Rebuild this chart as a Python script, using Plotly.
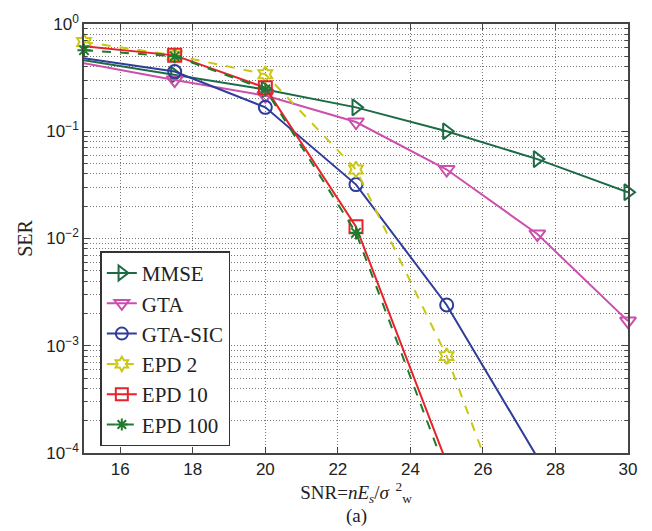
import plotly.graph_objects as go

# SNR grid (dB) and symbol error rates for each detector
snr = [15, 17.5, 20, 22.5, 25, 27.5, 30]

ser_mmse = [0.46, 0.335, 0.245, 0.167, 0.100, 0.055, 0.027]
ser_gta = [0.43, 0.30, 0.215, 0.122, 0.044, 0.011, 0.0017]
ser_gta_sic = [0.48, 0.36, 0.167, 0.0318, 0.0024, 9.1e-5]
ser_epd2 = [0.68, 0.51, 0.34, 0.044, 8.0e-4, 4.4e-6]
ser_epd10 = [0.62, 0.51, 0.255, 0.0129, 8.1e-5]
ser_epd100 = [0.57, 0.50, 0.246, 0.0113, 6.5e-5]

names = ["MMSE", "GTA", "GTA-SIC", "EPD 2", "EPD 10", "EPD 100"]
values = [ser_mmse, ser_gta, ser_gta_sic, ser_epd2, ser_epd10, ser_epd100]
colors = ["#1b6b45", "#cc4fae", "#2e3c9a", "#c9c814", "#e8222a", "#1f7a2e"]
symbols = ["triangle-right-open", "triangle-down-open", "circle-open",
           "hexagram-open", "square-open", "asterisk-open"]
msizes = [14, 14, 13, 12, 13, 11]
dashes = ["solid", "solid", "solid", "dash", "solid", "dash"]
# first SNR at which a marker is drawn
marker_start = [17.5, 17.5, 17.5, 15, 17.5, 15]

SERIF = "Liberation Serif, DejaVu Serif, serif"
GRID = dict(showgrid=True, gridcolor="#777", griddash="1px,2px", gridwidth=1)

y_min = 1e-4
fig = go.Figure()

for name, ser, col, sym, ms, dash, m0 in zip(names, values, colors, symbols,
                                              msizes, dashes, marker_start):
    xs = snr[:len(ser)]
    fig.add_trace(go.Scatter(x=xs, y=ser, mode="lines", showlegend=False,
                             line=dict(color=col, width=2, dash=dash),
                             hoverinfo="skip"))
    mx = [x for x, y in zip(xs, ser) if x >= m0 and y >= y_min]
    my = [y for x, y in zip(xs, ser) if x >= m0 and y >= y_min]
    fig.add_trace(go.Scatter(x=mx, y=my, mode="markers", showlegend=False,
                             cliponaxis=False,
                             marker=dict(symbol=sym, size=ms, color=col,
                                         line=dict(color=col, width=2))))
    fig.add_trace(go.Scatter(x=[None], y=[None], mode="lines+markers",
                             name=name,
                             line=dict(color=col, width=2, dash=dash),
                             marker=dict(symbol=sym, size=ms - 1, color=col,
                                         line=dict(color=col, width=2))))

ytick_vals = [1e-4, 1e-3, 1e-2, 1e-1, 1]
ytick_text = ["10<sup>−4</sup>", "10<sup>−3</sup>", "10<sup>−2</sup>",
              "10<sup>−1</sup>", "10<sup>0</sup>"]

fig.update_layout(
    width=652, height=531,
    margin=dict(l=84, r=24, t=15, b=78),
    plot_bgcolor="white", paper_bgcolor="white",
    font=dict(family="Liberation Sans, Arial, sans-serif", size=17,
              color="#222"),
    legend=dict(x=0.03, y=0.47, xanchor="left", yanchor="top",
                bgcolor="white", bordercolor="#333", borderwidth=1.5,
                font=dict(family=SERIF, size=21, color="#222"),
                tracegroupgap=0, itemwidth=30),
    xaxis=dict(range=[15, 30], tickvals=[16, 18, 20, 22, 24, 26, 28, 30],
               ticks="inside", ticklen=6, tickcolor="#444",
               showline=True, linecolor="#444", linewidth=1.5, mirror="ticks",
               zeroline=False, **GRID,
               title=dict(text="SNR=<i>nE<sub>s</sub></i>/<i>σ</i>"
                               "<sup>  2</sup><sub>w</sub>",
                          font=dict(family=SERIF, size=19), standoff=6)),
    yaxis=dict(type="log", range=[-4, 0], tickvals=ytick_vals,
               ticktext=ytick_text,
               ticks="inside", ticklen=6, tickcolor="#444",
               showline=True, linecolor="#444", linewidth=1.5, mirror="ticks",
               zeroline=False, **GRID,
               minor=dict(ticks="inside", ticklen=3, tickcolor="#444",
                          tickvals=[m * 10.0 ** e for e in range(-4, 0)
                                    for m in range(2, 10)], **GRID),
               title=dict(text="SER", font=dict(family=SERIF, size=20),
                          standoff=8)),
)

fig.add_annotation(text="(a)", xref="paper", yref="paper", x=0.5, y=-0.148,
                   xanchor="center", yanchor="middle", showarrow=False,
                   font=dict(family=SERIF, size=19, color="#222"))

fig.write_html("out.html")
